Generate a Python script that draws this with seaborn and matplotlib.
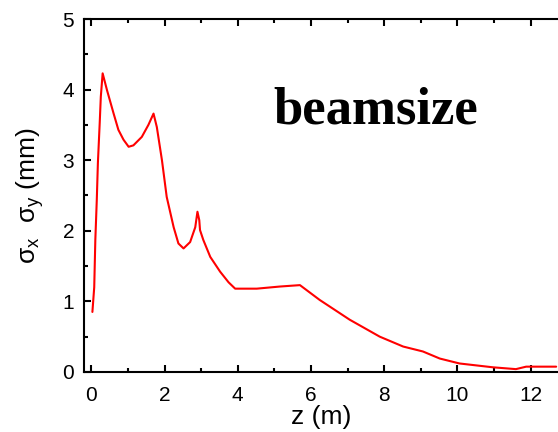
import matplotlib
matplotlib.use("Agg")
import matplotlib.pyplot as plt
import seaborn as sns
from matplotlib.ticker import MultipleLocator

# beam size along z
z_m = [0.03, 0.08, 0.11, 0.15, 0.18, 0.23, 0.26, 0.31, 0.43, 0.61, 0.74, 0.88,
       1.02, 1.15, 1.38, 1.56, 1.70, 1.79, 1.93, 2.06, 2.25, 2.38, 2.52, 2.70,
       2.84, 2.90, 2.95, 2.97, 3.06, 3.25, 3.52, 3.75, 3.93, 4.52, 5.15, 5.7,
       6.24, 7.06, 7.88, 8.52, 9.06, 9.52, 10.06, 10.97, 11.6, 11.88, 12.7]
sigma_mm = [0.85, 1.2, 1.87, 2.44, 2.96, 3.53, 3.9, 4.23, 3.99, 3.66, 3.43, 3.29,
            3.19, 3.21, 3.33, 3.50, 3.66, 3.47, 3.00, 2.48, 2.05, 1.82, 1.75, 1.84,
            2.05, 2.27, 2.15, 2.01, 1.87, 1.63, 1.42, 1.27, 1.18, 1.18, 1.21, 1.23,
            1.02, 0.74, 0.50, 0.36, 0.29, 0.19, 0.12, 0.066, 0.04, 0.075, 0.075]

x_ticks = [0, 2, 4, 6, 8, 10, 12]
y_ticks = [0, 1, 2, 3, 4, 5]

sns.set_style("ticks")
plt.rcParams['font.family'] = ['Liberation Sans', 'DejaVu Sans']
plt.rcParams['mathtext.default'] = 'regular'
plt.rcParams['text.color'] = 'black'
plt.rcParams['axes.labelcolor'] = 'black'
plt.rcParams['xtick.color'] = 'black'
plt.rcParams['ytick.color'] = 'black'

fig = plt.figure(figsize=(5.58, 4.32), dpi=100)
ax = fig.add_axes([0.1505, 0.139, 0.8495, 0.817])

sns.lineplot(x=z_m, y=sigma_mm, color='red', linewidth=1.5,
             estimator=None, sort=False, ax=ax)

ax.set_xlim(-0.2, 12.75)
ax.set_ylim(0, 5)
ax.set_xticks(x_ticks)
ax.set_yticks(y_ticks)
ax.xaxis.set_minor_locator(MultipleLocator(1))
ax.yaxis.set_minor_locator(MultipleLocator(0.5))

for side in ['left', 'top', 'bottom']:
    ax.spines[side].set_linewidth(1.5)
    ax.spines[side].set_color('black')
ax.spines['right'].set_visible(False)

ax.tick_params(which='both', direction='in', top=True, right=False,
               width=1.5, labelsize=15)
ax.tick_params(axis='x', pad=10)
ax.tick_params(axis='y', pad=7)
ax.tick_params(which='major', length=5)
ax.tick_params(which='minor', length=3)

ax.set_xlabel('z (m)', fontsize=19, labelpad=0)
ax.set_ylabel(r'$\sigma_x$  $\sigma_y$ (mm)', fontsize=19, labelpad=12)

ax.text(0.615, 0.705, 'beamsize', transform=ax.transAxes,
        fontsize=38, fontweight='bold', family='Liberation Serif',
        ha='center', va='baseline')

fig.savefig('out.png', dpi=100)
